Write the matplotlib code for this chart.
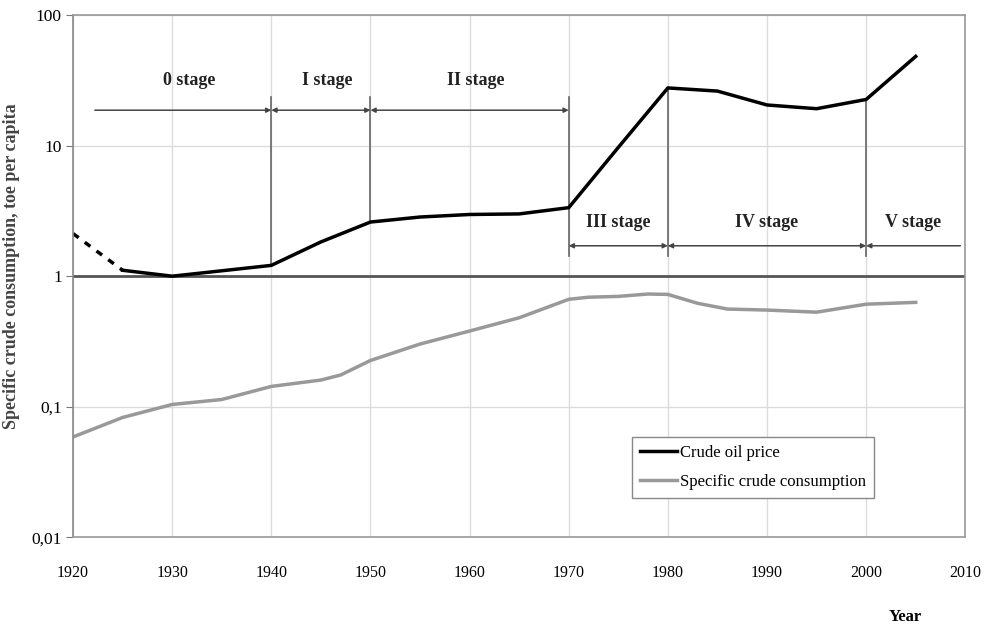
import numpy as np
import matplotlib
matplotlib.use("Agg")
import matplotlib.pyplot as plt
from matplotlib.ticker import FixedLocator, FuncFormatter, NullLocator

plt.rcParams['font.family'] = ['Liberation Serif', 'DejaVu Serif']

# crude oil price (relative, 1930 = 1)
price_dash_years = [1920, 1925]
price_dash = [2.12, 1.11]
price_years = [1925, 1930, 1940, 1945, 1950, 1955, 1960, 1965, 1970, 1975, 1980, 1985, 1990, 1995, 2000, 2005]
price = [1.11, 1.0, 1.21, 1.83, 2.6, 2.84, 2.97, 3.0, 3.35, 9.7, 27.7, 26.2, 20.5, 19.2, 22.6, 48.3]

# specific crude consumption
cons_years = [1920, 1925, 1930, 1935, 1940, 1945, 1947, 1950, 1955, 1960, 1965, 1970, 1972, 1975, 1978, 1980, 1983, 1986, 1990, 1995, 2000, 2005]
cons = [0.0586, 0.0827, 0.104, 0.1135, 0.143, 0.160, 0.175, 0.226, 0.302, 0.38, 0.48, 0.665, 0.69, 0.70, 0.73, 0.725, 0.62, 0.56, 0.55, 0.53, 0.61, 0.63]

# stages
upper_bounds = [1922.2, 1940, 1950, 1970]
upper_names = ['0 stage', 'I stage', 'II stage']
lower_bounds = [1970, 1980, 2000, 2009.5]
lower_names = ['III stage', 'IV stage', 'V stage']

ytick_vals = [0.01, 0.1, 1, 10, 100]
ytick_labels = ['0,01', '0,1', '1', '10', '100']
xticks = list(range(1920, 2011, 10))

fig = plt.figure(figsize=(9.87, 6.32), dpi=100)
ax = fig.add_axes([0.074, 0.150, 0.904, 0.826])
ax.set_yscale('log')
ax.set_xlim(1920, 2010)
ax.set_ylim(0.01, 100)

ax.yaxis.set_major_locator(FixedLocator(ytick_vals))
ax.yaxis.set_minor_locator(NullLocator())
ax.yaxis.set_major_formatter(FuncFormatter(lambda v, p: ytick_labels[ytick_vals.index(v)] if v in ytick_vals else ''))
ax.set_xticks(xticks)
ax.tick_params(axis='x', length=0, pad=20, labelsize=11.5)
ax.tick_params(axis='y', direction='out', length=5, color='#777777', labelsize=12.5, pad=3)

ax.grid(True, which='major', color='#dcdcdc', lw=1)
ax.set_axisbelow(True)
for s in ax.spines.values():
    s.set_color('#999999')
    s.set_linewidth(1.2)
ax.spines['left'].set_color('#888888')

ax.axhline(1, color='#555555', lw=2, zorder=2)

# stage vertical lines
vcol = '#666666'
ax.plot([1940, 1940], [23.4, 1.21], color=vcol, lw=1.2)
ax.plot([1950, 1950], [23.4, 2.6], color=vcol, lw=1.2)
ax.plot([1970, 1970], [23.4, 1.42], color=vcol, lw=1.2)
ax.plot([1980, 1980], [27.7, 1.42], color=vcol, lw=1.2)
ax.plot([2000, 2000], [22.6, 1.42], color=vcol, lw=1.2)

# curves
ax.plot(price_dash_years, price_dash, color='black', lw=2.5, ls=(0, (2, 2.2)))
ax.plot(price_years, price, color='black', lw=2.5, label='Crude oil price')
ax.plot(cons_years, cons, color='#999999', lw=2.5, label='Specific crude consumption')

acol = '#444444'
def arrow(x0, x1, y, style):
    ax.annotate('', xy=(x1, y), xytext=(x0, y),
                arrowprops=dict(arrowstyle=style, color=acol, lw=1.1,
                                shrinkA=0, shrinkB=0, mutation_scale=7))

y_up = 18.7
arrow(upper_bounds[0], upper_bounds[1], y_up, '-|>')
for a, b in zip(upper_bounds[1:-1], upper_bounds[2:]):
    arrow(a, b, y_up, '<|-|>')
for i, n in enumerate(upper_names):
    xm = (upper_bounds[i] + upper_bounds[i + 1]) / 2 + 0.6
    ax.text(xm, 31.7, n, ha='center', va='center', fontsize=13, fontweight='bold', color='#222222')

y_lo = 1.71
for a, b in zip(lower_bounds[:-2], lower_bounds[1:-1]):
    arrow(a, b, y_lo, '<|-|>')
arrow(lower_bounds[-1], lower_bounds[-2], y_lo, '-|>')
for i, n in enumerate(lower_names):
    xm = (lower_bounds[i] + lower_bounds[i + 1]) / 2
    ax.text(xm, 2.57, n, ha='center', va='center', fontsize=13, fontweight='bold', color='#222222')

leg = ax.legend(loc='upper left', bbox_to_anchor=(0.640, 0.309), bbox_transform=fig.transFigure,
                borderaxespad=0, fontsize=12, fancybox=False, edgecolor='#888888', framealpha=1,
                handlelength=2.2, handletextpad=0.2, borderpad=0.5, labelspacing=0.75)

fig.text(905 / 987, 1 - 617 / 632, 'Year', ha='center', va='center', fontsize=12, fontweight='bold')
fig.text(0.012, 1 - 266 / 632, 'Specific crude consumption, toe per capita', rotation=90,
         ha='center', va='center', fontsize=13, fontweight='bold', color='#444444')

fig.savefig('out.png', dpi=100)
